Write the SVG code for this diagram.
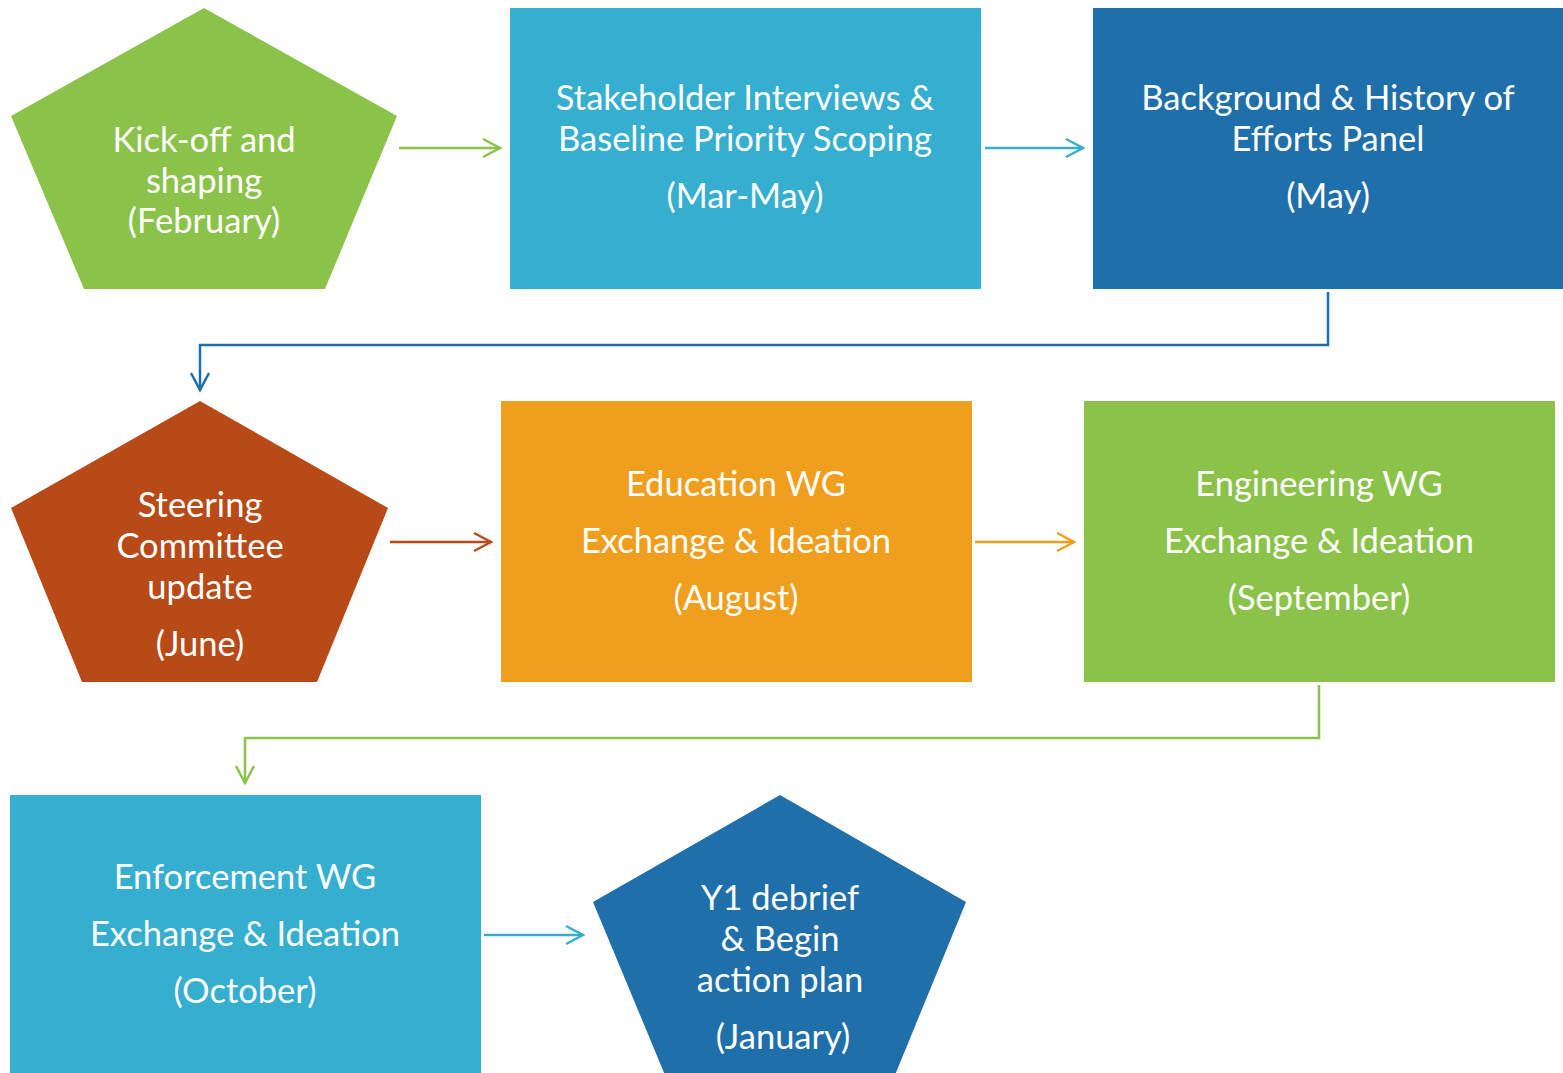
<svg xmlns="http://www.w3.org/2000/svg" width="1563" height="1073" viewBox="0 0 1563 1073">
<style>
text{font-family:Lato,"Open Sans","Liberation Sans",sans-serif;font-size:34.5px;fill:#fff;text-anchor:middle}
.c{fill:none;stroke-width:2.5}
</style>
<defs>
<marker id="ag" markerUnits="userSpaceOnUse" markerWidth="24" markerHeight="24" refX="20" refY="12" orient="auto" overflow="visible"><path d="M3,3 L20,12 L3,21" fill="none" stroke="#8BC34A" stroke-width="2.5"/></marker>
<marker id="alb" markerUnits="userSpaceOnUse" markerWidth="24" markerHeight="24" refX="20" refY="12" orient="auto" overflow="visible"><path d="M3,3 L20,12 L3,21" fill="none" stroke="#36AECF" stroke-width="2.5"/></marker>
<marker id="adb" markerUnits="userSpaceOnUse" markerWidth="24" markerHeight="24" refX="20" refY="12" orient="auto" overflow="visible"><path d="M3,3 L20,12 L3,21" fill="none" stroke="#1F6FAA" stroke-width="2.5"/></marker>
<marker id="ar" markerUnits="userSpaceOnUse" markerWidth="24" markerHeight="24" refX="20" refY="12" orient="auto" overflow="visible"><path d="M3,3 L20,12 L3,21" fill="none" stroke="#B84A18" stroke-width="2.5"/></marker>
<marker id="ao" markerUnits="userSpaceOnUse" markerWidth="24" markerHeight="24" refX="20" refY="12" orient="auto" overflow="visible"><path d="M3,3 L20,12 L3,21" fill="none" stroke="#F09E1D" stroke-width="2.5"/></marker>
</defs>
<rect width="1563" height="1073" fill="#fff"/>
<g id="connectors">
<path class="c" stroke="#8BC34A" d="M399,148 H500" marker-end="url(#ag)"/>
<path class="c" stroke="#36AECF" d="M985,148 H1083" marker-end="url(#alb)"/>
<path class="c" stroke="#1F6FAA" d="M1328,292 V345 H200 V390" marker-end="url(#adb)"/>
<path class="c" stroke="#B84A18" d="M390,542 H491" marker-end="url(#ar)"/>
<path class="c" stroke="#F09E1D" d="M975,542 H1074" marker-end="url(#ao)"/>
<path class="c" stroke="#8BC34A" d="M1319,685 V738 H245 V783" marker-end="url(#ag)"/>
<path class="c" stroke="#36AECF" d="M484,935 H583" marker-end="url(#alb)"/>
</g>
<g id="n1">
<polygon points="204,8 397,116 325,289 84,289 11,116" fill="#8BC34A"/>
<text x="204" y="152">Kick-off and</text>
<text x="204" y="193">shaping</text>
<text x="204" y="233">(February)</text>
</g>
<g id="n2">
<rect x="510" y="8" width="471" height="281" fill="#36AECF"/>
<text x="745" y="110">Stakeholder Interviews &amp;</text>
<text x="745" y="151">Baseline Priority Scoping</text>
<text x="745" y="208">(Mar-May)</text>
</g>
<g id="n3">
<rect x="1093" y="8" width="470" height="281" fill="#1F6FAA"/>
<text x="1328" y="110">Background &amp; History of</text>
<text x="1328" y="151">Efforts Panel</text>
<text x="1328" y="208">(May)</text>
</g>
<g id="n4">
<polygon points="200,401 388,508 317,682 82,682 11,508" fill="#B84A18"/>
<text x="200" y="517">Steering</text>
<text x="200" y="558">Committee</text>
<text x="200" y="599">update</text>
<text x="200" y="656">(June)</text>
</g>
<g id="n5">
<rect x="501" y="401" width="471" height="281" fill="#F09E1D"/>
<text x="736" y="496">Education WG</text>
<text x="736" y="553">Exchange &amp; Ideation</text>
<text x="736" y="610">(August)</text>
</g>
<g id="n6">
<rect x="1084" y="401" width="471" height="281" fill="#8BC34A"/>
<text x="1319" y="496">Engineering WG</text>
<text x="1319" y="553">Exchange &amp; Ideation</text>
<text x="1319" y="610">(September)</text>
</g>
<g id="n7">
<rect x="10" y="795" width="471" height="278" fill="#36AECF"/>
<text x="245" y="889">Enforcement WG</text>
<text x="245" y="946">Exchange &amp; Ideation</text>
<text x="245" y="1003">(October)</text>
</g>
<g id="n8">
<polygon points="780,795 966,902 895,1075 665,1075 593,902" fill="#1F6FAA"/>
<text x="780" y="910">Y1 debrief</text>
<text x="780" y="951">&amp; Begin</text>
<text x="780" y="992">action plan</text>
<text x="783" y="1049">(January)</text>
</g>
</svg>
